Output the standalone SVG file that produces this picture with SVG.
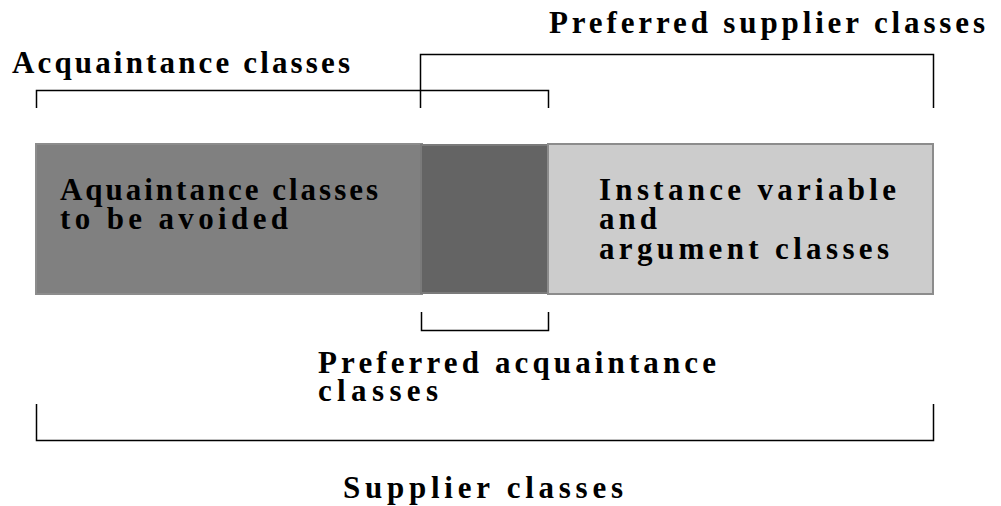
<svg xmlns="http://www.w3.org/2000/svg" width="1001" height="506" viewBox="0 0 1001 506">
  <style>
    .lbl { font-family: "Liberation Serif", "DejaVu Serif", serif; font-weight: bold; font-size: 31px; fill: #000; }
    .brk { fill: none; stroke: #000; stroke-width: 1.5; }
  </style>
  <rect width="1001" height="506" fill="#fff"/>

  <!-- bar segments -->
  <g id="avoided">
    <rect x="36" y="144" width="386" height="150" fill="#808080" stroke="#8c8c8c" stroke-width="2"/>
    <text class="lbl" x="60" y="200" textLength="318" lengthAdjust="spacing">Aquaintance classes</text>
    <text class="lbl" x="60" y="229" textLength="228" lengthAdjust="spacing">to be avoided</text>
  </g>
  <g id="preferred-acquaintance">
    <rect x="421" y="145" width="127" height="148" fill="#646464" stroke="#7a7a7a" stroke-width="2"/>
  </g>
  <g id="instance-argument">
    <rect x="548" y="144" width="385" height="150" fill="#cccccc" stroke="#8c8c8c" stroke-width="2"/>
    <text class="lbl" x="599" y="200" textLength="297" lengthAdjust="spacing">Instance variable</text>
    <text class="lbl" x="599" y="229" textLength="58" lengthAdjust="spacing">and</text>
    <text class="lbl" x="599" y="259" textLength="290" lengthAdjust="spacing">argument classes</text>
  </g>

  <!-- bracket labels -->
  <g id="acquaintance-label">
    <text class="lbl" x="12" y="73" textLength="338" lengthAdjust="spacing">Acquaintance classes</text>
  </g>
  <g id="preferred-supplier-label">
    <text class="lbl" x="549" y="33" textLength="436" lengthAdjust="spacing">Preferred supplier classes</text>
  </g>
  <g id="preferred-acquaintance-label">
    <text class="lbl" x="318" y="373" textLength="398" lengthAdjust="spacing">Preferred acquaintance</text>
    <text class="lbl" x="318" y="401" textLength="120" lengthAdjust="spacing">classes</text>
  </g>
  <g id="supplier-label">
    <text class="lbl" x="343" y="498" textLength="280" lengthAdjust="spacing">Supplier classes</text>
  </g>

  <!-- brackets -->
  <g id="connectors">
    <path class="brk" d="M36.5,108 V90.5 H548.5 V108"/>
    <path class="brk" d="M420.5,108 V54.5 H933.5 V108"/>
    <path class="brk" d="M421.5,312 V330.5 H548.5 V312"/>
    <path class="brk" d="M36.5,404 V440.5 H933.5 V404"/>
  </g>
</svg>
